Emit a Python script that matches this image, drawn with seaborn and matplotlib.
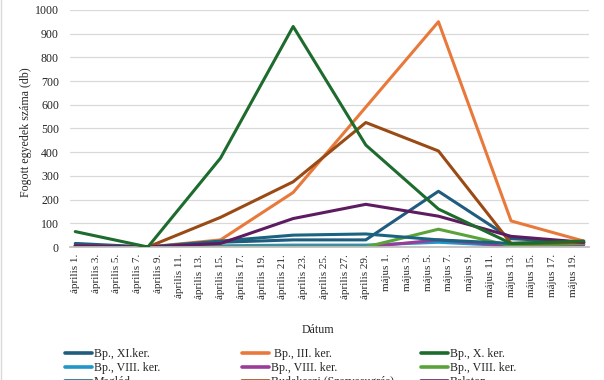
import pandas as pd
import matplotlib.pyplot as plt
from matplotlib.lines import Line2D
import seaborn as sns
import numpy as np

# weekly sampling dates
dates = ['2019-04-01', '2019-04-08', '2019-04-15', '2019-04-22',
         '2019-04-29', '2019-05-06', '2019-05-13', '2019-05-20']

# caught individuals per site
bp_xi = [15, 0, 20, 30, 30, 235, 35, 20]
bp_iii = [5, 0, 30, 230, 590, 950, 110, 25]
bp_x = [65, 0, 375, 930, 430, 160, 15, 25]
bp_viii_a = [5, 0, 5, 8, 8, 20, 5, 10]
bp_viii_b = [0, 0, 0, 0, 0, 30, 5, 10]
bp_viii_c = [0, 0, 0, 0, 0, 75, 5, 15]
maglod = [8, 0, 25, 50, 55, 30, 15, 20]
budakeszi = [5, 0, 125, 275, 525, 405, 15, 20]
balaton = [5, 0, 15, 120, 180, 130, 45, 20]

series = [bp_xi, bp_iii, bp_x, bp_viii_a, bp_viii_b, bp_viii_c,
          maglod, budakeszi, balaton]
names = ['Bp., XI.ker.', ' Bp., III. ker.', 'Bp., X. ker.',
         'Bp., VIII. ker.', 'Bp., VIII. ker.', 'Bp., VIII. ker.',
         'Maglód', 'Budakeszi (Szarvasugrás)', 'Balaton']
colors = ['#1F5C7E', '#E8793B', '#1D6B2D', '#2196C8', '#993D99',
          '#59A33A', '#1A6480', '#9A4A14', '#5E1C60']

# x axis labels every second day
label_dates = pd.date_range('2019-04-01', '2019-05-19', freq='2D')
tick_labels = [f'április {d}.' for d in range(1, 30, 2)] + \
              [f'május {d}.' for d in range(1, 20, 2)]

start = pd.Timestamp(dates[0])
days = [(pd.Timestamp(d) - start).days for d in dates]
label_days = [(d - start).days for d in label_dates]

rows = []
for i, vals in enumerate(series):
    for d, v in zip(days, vals):
        rows.append({'sor': i, 'nap': d, 'db': v})
df = pd.DataFrame(rows)

sns.set_theme(style='white')
plt.rcParams['font.family'] = ['Liberation Serif', 'DejaVu Serif']

fig, ax = plt.subplots(figsize=(6.04, 3.8), dpi=100)
fig.subplots_adjust(left=0.116, right=0.975, top=0.974, bottom=0.35)

sns.lineplot(data=df, x='nap', y='db', hue='sor', palette=colors,
             linewidth=2.2, legend=False, ax=ax)
ax.lines[2].set_zorder(3)

ax.set_ylim(0, 1000)
ax.set_yticks(range(0, 1001, 100))
ax.yaxis.grid(True, color='#D9D9D9', linewidth=0.9)
ax.set_axisbelow(True)
ax.tick_params(axis='y', length=0, labelsize=8.6, pad=8)

ax.set_xlim(-0.5, 49.5)
ax.set_xticks(label_days)
ax.set_xticklabels(tick_labels, rotation=90, fontsize=8)
ax.set_xticks(np.arange(-0.5, 50, 2), minor=True)
ax.tick_params(axis='x', which='major', length=0, pad=5)
ax.tick_params(axis='x', which='minor', length=4, color='#BFBFBF', width=0.8)

for s in ['left', 'top', 'right']:
    ax.spines[s].set_visible(False)
ax.spines['bottom'].set_color('#BFBFBF')

ax.set_xlabel('Dátum', fontsize=8.6)
ax.xaxis.set_label_coords(0.478, -0.325)
ax.set_ylabel('Fogott egyedek száma (db)', fontsize=8.6)
ax.yaxis.set_label_coords(-0.073, 0.483)

# legend in three columns, row-wise like the original
col_x = [65, 242, 421]
for c in range(3):
    idx = [c, c + 3, c + 6]
    handles = [Line2D([], [], color=colors[i], linewidth=2.6) for i in idx]
    fig.legend(handles, [names[i] for i in idx], loc='upper left',
               bbox_to_anchor=(col_x[c] / 604, 1 - 348 / 380),
               frameon=False, fontsize=8.6, handlelength=2.3,
               handletextpad=0.1, borderpad=0, borderaxespad=0,
               labelspacing=0.17)

fig.add_artist(Line2D([0.002, 0.002], [0, 1], color='#D9D9D9', linewidth=1))

fig.savefig('out.png', dpi=100)
